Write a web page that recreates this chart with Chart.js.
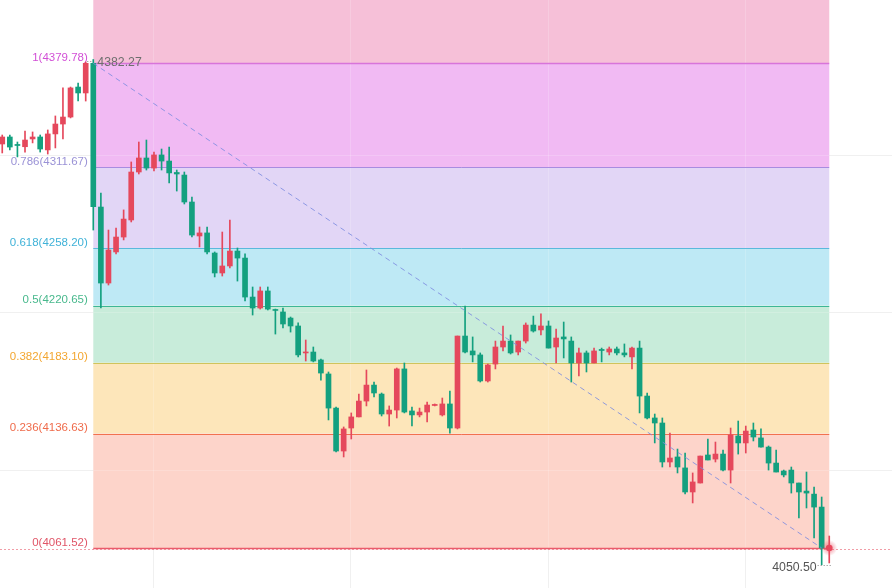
<!DOCTYPE html>
<html>
<head>
<meta charset="utf-8">
<script src="https://cdn.jsdelivr.net/npm/chart.js@4.4.1/dist/chart.umd.min.js"></script>
<style>
  html, body { margin: 0; padding: 0; background: #ffffff; }
  #wrap { width: 892px; height: 588px; position: relative; }
</style>
</head>
<body>
<div id="wrap"><canvas id="c" width="892" height="588"></canvas></div>
<script>
// ---------- DATA ----------
const openPrices = [
 4326.8, 4331.4, 4326.5, 4325.0, 4330.1, 4331.4, 4322.9, 4333.4, 4339.9, 4344.5,
 4364.2, 4360.3, 4379.78, 4285.4, 4235.5, 4255.9, 4265.7, 4276.9, 4308.4, 4317.6,
 4311.0, 4319.6, 4315.6, 4308.1, 4306.4, 4288.7, 4266.4, 4268.4, 4255.2, 4242.1,
 4246.7, 4256.5, 4251.9, 4226.3, 4219.1, 4230.3, 4218.1, 4216.5, 4212.5, 4207.3,
 4189.6, 4190.2, 4185.0, 4175.8, 4153.4, 4125.2, 4140.3, 4147.6, 4158.0, 4168.5,
 4162.6, 4149.5, 4152.1, 4179.1, 4151.5, 4148.9, 4150.8, 4155.1, 4148.9, 4156.1,
 4140.3, 4200.7, 4190.9, 4188.3, 4171.2, 4182.3, 4193.5, 4197.4, 4190.2, 4197.4,
 4207.9, 4204.7, 4207.3, 4193.5, 4200.1, 4197.4, 4183.0, 4189.6, 4183.0, 4191.9,
 4190.2, 4192.2, 4189.6, 4187.0, 4192.8, 4161.3, 4146.9, 4143.6, 4118.0, 4121.3,
 4114.1, 4098.3, 4104.2, 4122.6, 4119.9, 4123.2, 4112.7, 4135.1, 4130.5, 4139.0,
 4133.8, 4127.8, 4117.3, 4112.1, 4112.7, 4104.2, 4098.9, 4096.9, 4088.4, 4061.2
];
const closePrices = [
 4331.4, 4324.8, 4325.8, 4329.4, 4331.4, 4323.5, 4333.4, 4339.9, 4344.5, 4363.6,
 4360.3, 4379.78, 4285.6, 4235.5, 4257.2, 4265.7, 4277.5, 4308.4, 4317.6, 4311.0,
 4319.6, 4315.6, 4307.8, 4307.1, 4288.7, 4267.0, 4268.4, 4255.9, 4242.1, 4246.7,
 4256.5, 4251.9, 4226.3, 4219.1, 4230.3, 4218.4, 4217.5, 4208.6, 4207.3, 4188.3,
 4190.2, 4184.3, 4176.4, 4153.4, 4125.2, 4139.7, 4147.6, 4158.0, 4168.5, 4163.3,
 4149.5, 4152.1, 4179.1, 4150.8, 4148.9, 4150.8, 4155.4, 4155.8, 4156.1, 4140.3,
 4200.7, 4190.2, 4188.3, 4171.2, 4181.7, 4193.5, 4197.4, 4189.6, 4197.4, 4207.9,
 4204.0, 4207.3, 4192.8, 4199.4, 4198.8, 4183.0, 4189.6, 4183.0, 4190.9, 4191.2,
 4192.2, 4189.6, 4188.3, 4192.8, 4161.3, 4146.9, 4143.6, 4118.0, 4120.6, 4114.7,
 4098.3, 4104.9, 4121.9, 4119.3, 4123.2, 4112.7, 4135.7, 4130.5, 4138.3, 4134.4,
 4127.8, 4117.3, 4111.4, 4109.5, 4104.2, 4098.3, 4097.6, 4088.4, 4061.52, 4062.2
];
const highPrices = [
 4332.7, 4332.7, 4328.1, 4335.3, 4334.7, 4332.7, 4336.0, 4345.2, 4363.6, 4364.2,
 4366.8, 4380.6, 4382.27, 4294.6, 4270.3, 4271.6, 4283.5, 4315.0, 4328.1, 4329.4,
 4321.5, 4323.5, 4324.8, 4309.7, 4308.4, 4292.0, 4272.3, 4272.3, 4255.9, 4269.0,
 4276.9, 4258.5, 4254.6, 4232.9, 4232.9, 4232.9, 4218.4, 4219.1, 4213.2, 4209.3,
 4198.1, 4193.5, 4185.6, 4177.1, 4154.1, 4141.0, 4150.2, 4162.6, 4178.4, 4170.5,
 4163.3, 4154.8, 4179.7, 4183.0, 4154.1, 4153.4, 4157.4, 4156.1, 4160.0, 4164.6,
 4200.7, 4220.4, 4200.1, 4189.6, 4182.3, 4197.4, 4207.3, 4201.4, 4197.4, 4209.3,
 4213.8, 4215.2, 4210.6, 4205.3, 4209.9, 4200.1, 4192.8, 4190.9, 4192.8, 4192.8,
 4193.5, 4193.5, 4195.5, 4193.5, 4197.4, 4163.3, 4149.5, 4146.9, 4137.0, 4126.5,
 4123.9, 4110.8, 4121.9, 4133.1, 4131.1, 4125.9, 4140.3, 4144.9, 4141.6, 4143.6,
 4139.7, 4128.5, 4125.9, 4112.7, 4114.7, 4104.2, 4111.4, 4101.6, 4095.0, 4069.4
];
const lowPrices = [
 4320.9, 4322.9, 4318.3, 4321.5, 4327.5, 4321.5, 4320.2, 4324.2, 4330.1, 4343.9,
 4355.0, 4355.0, 4270.3, 4219.1, 4234.2, 4254.6, 4263.8, 4275.6, 4307.1, 4309.7,
 4309.1, 4309.7, 4301.2, 4295.9, 4287.4, 4265.7, 4259.2, 4254.6, 4239.5, 4240.1,
 4245.4, 4236.8, 4223.7, 4214.5, 4218.4, 4217.8, 4202.0, 4206.0, 4203.3, 4187.0,
 4184.3, 4183.7, 4171.8, 4145.6, 4124.6, 4121.3, 4133.1, 4147.6, 4154.8, 4160.7,
 4148.2, 4141.6, 4146.9, 4150.2, 4141.6, 4147.6, 4144.3, 4154.8, 4148.2, 4137.0,
 4139.7, 4189.6, 4183.7, 4170.5, 4170.5, 4179.1, 4190.9, 4188.9, 4188.3, 4196.1,
 4203.3, 4201.4, 4192.8, 4183.0, 4186.3, 4170.5, 4174.5, 4177.1, 4183.0, 4183.7,
 4188.3, 4188.3, 4187.0, 4179.1, 4150.2, 4146.2, 4130.5, 4114.7, 4114.7, 4110.8,
 4097.0, 4091.1, 4104.2, 4119.3, 4118.0, 4112.1, 4104.2, 4123.2, 4123.9, 4131.8,
 4127.8, 4112.7, 4111.4, 4108.2, 4097.6, 4081.2, 4087.8, 4068.1, 4050.50, 4051.7
];

// Fibonacci retracement (from swing high candle to swing low candle)
const fibRatios = [1, 0.786, 0.618, 0.5, 0.382, 0.236, 0];
const fibPrices = [4379.78, 4311.67, 4258.20, 4220.65, 4183.10, 4136.63, 4061.52];
const fibStartIdx = 12;   // swing-high candle
const fibEndIdx = 109;    // last candle
const trendFromIdx = 12;
const trendToIdx = 108;
const swingHighLabel = '4382.27';
const swingHighValue = 4382.27;
const swingLowLabel = '4050.50';
const swingLowValue = 4050.50;
const swingLowIdx = 108;
const lastPrice = 4061.52;

// grid tick values
const gridXValues = [19.9, 45.9, 71.9, 97.9];
const gridYValues = [4319.6, 4216.5, 4112.7];

// ---------- STYLE ----------
const UP = '#e5485c';
const DOWN = '#13a07f';
const topBandColor = '#f6c0d8';
const bandColors = ['#f1baf3', '#e2d6f6', '#bee9f5', '#c8ecda', '#fde6ba', '#fdd4ca'];
const lineColors = ['#d874da', '#a88ce0', '#5ab9dc', '#3db795', '#cfc45c', '#f2714f', '#ea5b6c'];
const labelColors = ['#d24fd6', '#9a92d6', '#3fb2d8', '#47b88c', '#f3a630', '#ef6b4b', '#e05567'];

const idx = openPrices.map((_, i) => i);
const bodies = idx.map(i => ({ x: i, y: [openPrices[i], closePrices[i]] }));
const wicks = idx.map(i => ({ x: i, y: [lowPrices[i], highPrices[i]] }));
const colorOf = i => closePrices[i] >= openPrices[i] ? UP : DOWN;

const fibPlugin = {
  id: 'fib',
  beforeDatasetsDraw(chart) {
    const { ctx, chartArea, scales: { x, y } } = chart;
    const x0 = x.getPixelForValue(fibStartIdx);
    const x1 = x.getPixelForValue(fibEndIdx);
    ctx.save();
    // grid under bands
    ctx.strokeStyle = '#f0f0f0';
    ctx.lineWidth = 1;
    ctx.beginPath();
    gridXValues.forEach(v => { const p = Math.round(x.getPixelForValue(v)) + 0.5; ctx.moveTo(p, chartArea.top); ctx.lineTo(p, chartArea.bottom); });
    gridYValues.forEach(v => { const p = Math.round(y.getPixelForValue(v)) + 0.5; ctx.moveTo(chartArea.left, p); ctx.lineTo(chartArea.right, p); });
    ctx.stroke();
    // bands
    const yTop = y.getPixelForValue(fibPrices[0]);
    ctx.fillStyle = topBandColor;
    ctx.fillRect(x0, chartArea.top, x1 - x0, yTop - chartArea.top);
    for (let k = 0; k < fibPrices.length - 1; k++) {
      const ya = y.getPixelForValue(fibPrices[k]);
      const yb = y.getPixelForValue(fibPrices[k + 1]);
      ctx.fillStyle = bandColors[k];
      ctx.fillRect(x0, ya, x1 - x0, yb - ya);
    }
    // faint grid over bands
    ctx.strokeStyle = 'rgba(255,255,255,0.18)';
    ctx.beginPath();
    gridXValues.forEach(v => { const p = Math.round(x.getPixelForValue(v)) + 0.5; ctx.moveTo(p, chartArea.top); ctx.lineTo(p, y.getPixelForValue(fibPrices[6])); });
    gridYValues.forEach(v => { const p = Math.round(y.getPixelForValue(v)) + 0.5; ctx.moveTo(x0, p); ctx.lineTo(x1, p); });
    ctx.stroke();
    // level lines
    fibPrices.forEach((v, k) => {
      const p = Math.round(y.getPixelForValue(v)) + 0.5;
      ctx.strokeStyle = lineColors[k];
      ctx.lineWidth = k === 0 || k === 6 ? 1.5 : 1;
      ctx.beginPath(); ctx.moveTo(x0, p); ctx.lineTo(x1, p); ctx.stroke();
    });
    // current price dotted line across the whole width
    const pl = Math.round(y.getPixelForValue(lastPrice)) + 0.5;
    ctx.strokeStyle = 'rgba(232,92,108,0.6)';
    ctx.lineWidth = 1;
    ctx.setLineDash([2, 2]);
    ctx.beginPath(); ctx.moveTo(chartArea.left, pl + 1); ctx.lineTo(chartArea.right, pl + 1); ctx.stroke();
    ctx.setLineDash([]);
    // level labels
    ctx.font = '11.5px "Liberation Sans", Arial, sans-serif';
    ctx.textAlign = 'right';
    ctx.textBaseline = 'alphabetic';
    fibPrices.forEach((v, k) => {
      const p = y.getPixelForValue(v);
      ctx.fillStyle = labelColors[k];
      ctx.fillText(fibRatios[k] + '(' + v.toFixed(2) + ')', x0 - 5.5, p - 2.5);
    });
    ctx.restore();
  },
  afterDatasetsDraw(chart) {
    const { ctx, scales: { x, y } } = chart;
    ctx.save();
    // trend line high -> low
    ctx.strokeStyle = 'rgba(125,140,225,0.85)';
    ctx.lineWidth = 1;
    ctx.setLineDash([5, 4]);
    ctx.beginPath();
    ctx.moveTo(x.getPixelForValue(trendFromIdx), y.getPixelForValue(fibPrices[0]));
    ctx.lineTo(x.getPixelForValue(trendToIdx), y.getPixelForValue(fibPrices[6]));
    ctx.stroke();
    // short dotted leaders
    ctx.setLineDash([1, 2]);
    ctx.strokeStyle = '#888';
    const xh = x.getPixelForValue(fibStartIdx);
    const yh = y.getPixelForValue(swingHighValue) + 1.5;
    ctx.beginPath(); ctx.moveTo(xh - 6, Math.round(yh) + 0.5); ctx.lineTo(xh - 1, Math.round(yh) + 0.5); ctx.stroke();
    const xl = x.getPixelForValue(swingLowIdx);
    const yl = Math.round(y.getPixelForValue(swingLowValue)) + 0.5;
    ctx.beginPath(); ctx.moveTo(xl - 4, yl); ctx.lineTo(xl + 9, yl); ctx.stroke();
    ctx.setLineDash([]);
    // price labels
    ctx.font = '12.3px "Liberation Sans", Arial, sans-serif';
    ctx.fillStyle = '#6e6e6e';
    ctx.textBaseline = 'middle';
    ctx.textAlign = 'left';
    ctx.fillText(swingHighLabel, xh + 4, y.getPixelForValue(swingHighValue) + 3.5);
    ctx.fillStyle = '#555';
    ctx.textAlign = 'right';
    ctx.fillText(swingLowLabel, xl - 5, y.getPixelForValue(swingLowValue) + 2.5);
    // last price dot
    const xd = x.getPixelForValue(fibEndIdx);
    const yd = y.getPixelForValue(lastPrice);
    const g = ctx.createRadialGradient(xd, yd, 1, xd, yd, 8);
    g.addColorStop(0, 'rgba(235,70,90,0.55)');
    g.addColorStop(1, 'rgba(235,70,90,0)');
    ctx.fillStyle = g;
    ctx.beginPath(); ctx.arc(xd, yd, 8, 0, Math.PI * 2); ctx.fill();
    ctx.fillStyle = '#e8485c';
    ctx.beginPath(); ctx.arc(xd, yd, 3.3, 0, Math.PI * 2); ctx.fill();
    ctx.restore();
  }
};

new Chart(document.getElementById('c'), {
  type: 'bar',
  data: {
    datasets: [
      {
        label: 'wick',
        data: wicks,
        backgroundColor: ctx => colorOf(ctx.dataIndex),
        barThickness: 1,
        grouped: false,
        borderWidth: 0,
        order: 2
      },
      {
        label: 'body',
        data: bodies,
        backgroundColor: ctx => colorOf(ctx.dataIndex),
        barThickness: 5,
        minBarLength: 1,
        grouped: false,
        borderWidth: 0,
        order: 1
      }
    ]
  },
  options: {
    responsive: false,
    animation: false,
    layout: { padding: 0 },
    plugins: { legend: { display: false }, tooltip: { enabled: false } },
    scales: {
      x: { type: 'linear', min: -0.296, max: 117.27, display: false, offset: false },
      y: { type: 'linear', min: 4035.26, max: 4421.34, display: false }
    }
  },
  plugins: [fibPlugin]
});
</script>
</body>
</html>
